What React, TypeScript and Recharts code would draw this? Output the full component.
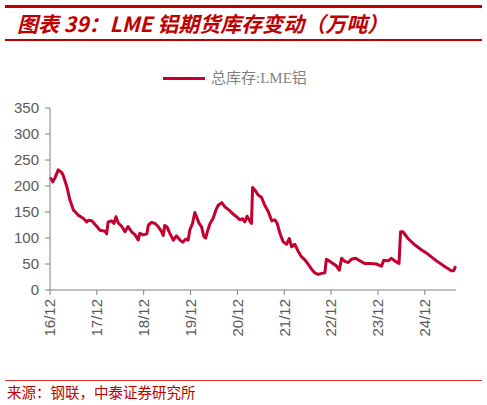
import React from "react";
import { LineChart, Line, XAxis, YAxis } from "recharts";

// months since Dec 2016
const months = [
  0, 0.7, 1.3, 2.1, 3.0, 3.4, 4.3, 5.1, 6.0, 7.2, 8.5, 9.4, 9.8, 10.7, 12.0, 12.8, 14.1, 14.5, 14.9, 15.8,
  16.4, 16.9, 17.5, 18.4, 19.2, 20.0, 20.9, 21.8, 22.6, 23.0, 23.9, 24.8, 25.2, 26.0, 26.9, 27.7, 28.6, 29.0,
  29.4, 30.0, 30.7, 31.6, 32.4, 33.3, 34.0, 34.8, 35.4, 35.8, 36.5, 37.1, 37.7, 38.2, 38.8, 39.4, 39.9, 40.3,
  41.0, 41.8, 42.5, 43.1, 44.0, 44.8, 46.1, 46.9, 47.8, 48.6, 49.3, 49.9, 50.5, 51.2, 51.6, 51.9, 52.5, 53.3,
  54.2, 55.0, 55.9, 56.8, 57.6, 58.2, 58.9, 59.7, 60.6, 61.3, 61.9, 62.7, 63.6, 64.4, 65.3, 66.1, 67.0, 67.8,
  68.7, 69.6, 70.4, 70.8, 71.7, 72.5, 73.4, 74.1, 74.7, 75.5, 76.4, 77.2, 78.3, 79.4, 80.6, 81.9, 83.6, 84.9,
  85.5, 86.6, 87.5, 88.3, 89.4, 89.8, 90.4, 91.7, 93.4, 95.2, 96.8, 99.0, 101.1, 102.8, 103.4, 103.9,
];
const stock = [
  217, 208, 216, 231, 226, 220, 199, 173, 154, 144, 138, 131, 134, 133, 122, 115, 113, 108, 131, 133,
  128, 141, 129, 122, 112, 122, 112, 106, 96, 109, 106, 108, 125, 130, 128, 122, 112, 105,
  124, 121, 109, 96, 104, 96, 92, 98, 96, 115, 128, 149, 138, 128, 122, 103, 100, 112,
  128, 138, 154, 163, 168, 160, 152, 146, 141, 135, 137, 131, 142, 132, 128, 197, 192, 183,
  178, 163, 151, 133, 135, 128, 109, 93, 88, 99, 83, 88, 74, 64, 58, 50, 40, 33,
  30, 32, 33, 59, 55, 51, 46, 38, 61, 55, 53, 59, 61, 56, 51, 51, 50, 46,
  57, 56, 61, 56, 51, 112, 112, 99, 87, 77, 69, 56, 45, 37, 37, 46,
];
const xTicks = [0, 12, 24, 36, 48, 60, 72, 84, 96];
const xTickLabels = ["16/12", "17/12", "18/12", "19/12", "20/12", "21/12", "22/12", "23/12", "24/12"];
const yTicks = [0, 50, 100, 150, 200, 250, 300, 350];

const data = months.map((m, i) => ({ m, v: stock[i] }));

const LINE_COLOR = "#C3002F";
const TEXT_GRAY = "#595959";
const AXIS_GRAY = "#808080";

const XTick = (props: any) => {
  const { x, y, payload } = props;
  const idx = xTicks.indexOf(payload.value);
  return (
    <text
      x={x}
      y={y}
      transform={`rotate(-90, ${x}, ${y})`}
      textAnchor="end"
      dy="0.36em"
      fill={TEXT_GRAY}
      fontSize={15}
      fontFamily="'Liberation Sans', Arial, sans-serif"
    >
      {idx >= 0 ? xTickLabels[idx] : ""}
    </text>
  );
};

export default function App() {
  return (
    <div
      style={{
        position: "absolute",
        left: 0,
        top: 0,
        width: 487,
        height: 405,
        background: "#fff",
        overflow: "hidden",
      }}
    >
      <div style={{ position: "absolute", left: 5, top: 5, width: 477, height: 3, background: "#C00000" }} />
      <div
        style={{
          position: "absolute",
          left: 17,
          top: 9,
          fontFamily: "'Noto Sans CJK SC', sans-serif",
          fontWeight: 700,
          fontStyle: "italic",
          fontSize: 21,
          color: "#C00000",
          whiteSpace: "nowrap",
          lineHeight: "28px",
        }}
      >
        图表 39：LME 铝期货库存变动（万吨）
      </div>
      <div style={{ position: "absolute", left: 5, top: 39, width: 477, height: 1.5, background: "#C00000" }} />

      <div style={{ position: "absolute", left: 163, top: 76.5, width: 42, height: 3, background: LINE_COLOR }} />
      <div
        style={{
          position: "absolute",
          left: 211,
          top: 68,
          fontFamily: "'Liberation Serif', 'Noto Sans CJK SC', serif",
          fontSize: 15,
          color: "#7f7f7f",
          whiteSpace: "nowrap",
          lineHeight: "20px",
        }}
      >
        总库存:LME铝
      </div>

      <div style={{ position: "absolute", left: 0, top: 0 }}>
        <LineChart width={487} height={405} data={data} margin={{ top: 108, right: 31, bottom: 65, left: 10 }}>
          <XAxis
            dataKey="m"
            type="number"
            domain={[0, 104]}
            ticks={xTicks}
            interval={0}
            tick={<XTick />}
            tickSize={5}
            tickMargin={4}
            height={50}
            stroke={AXIS_GRAY}
            axisLine={{ stroke: AXIS_GRAY }}
            tickLine={{ stroke: AXIS_GRAY }}
          />
          <YAxis
            type="number"
            domain={[0, 350]}
            ticks={yTicks}
            interval={0}
            width={40}
            tickSize={5}
            tickMargin={6}
            stroke={AXIS_GRAY}
            tick={{ fill: TEXT_GRAY, fontSize: 15, fontFamily: "'Liberation Sans', Arial, sans-serif" }}
          />
          <Line
            type="linear"
            dataKey="v"
            stroke={LINE_COLOR}
            strokeWidth={3}
            dot={false}
            isAnimationActive={false}
            strokeLinejoin="round"
          />
        </LineChart>
      </div>

      <div style={{ position: "absolute", left: 5, top: 380, width: 477, height: 1.3, background: "#E03030" }} />
      <div
        style={{
          position: "absolute",
          left: 7,
          top: 382,
          fontFamily: "'Noto Sans CJK SC', sans-serif",
          fontSize: 14.5,
          color: "#C00000",
          whiteSpace: "nowrap",
          lineHeight: "20px",
        }}
      >
        来源：钢联，中泰证券研究所
      </div>
    </div>
  );
}
